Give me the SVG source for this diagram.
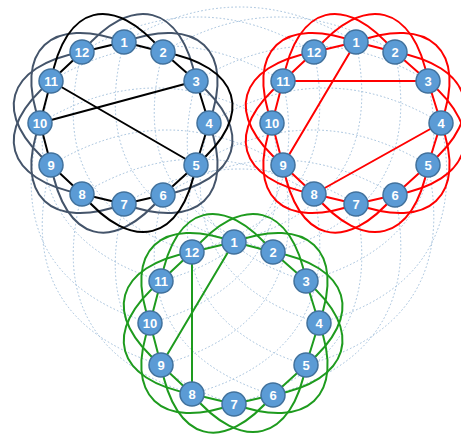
<svg xmlns="http://www.w3.org/2000/svg" xmlns:xlink="http://www.w3.org/1999/xlink" width="461" height="437" viewBox="0 0 461 437">
<style>
.bg{fill:#ffffff}
.dot{fill:none;stroke:#9fbedb;stroke-width:1;stroke-dasharray:1.6 2.2}
.ln{fill:none;stroke-width:2;stroke-linejoin:round;stroke-linecap:round}
.k{stroke:#000000}
.s{stroke:#44546a}
.r{stroke:#ff0000}
.g{stroke:#1e9b1e}
.node circle{fill:#5b9bd5;stroke:#41719c;stroke-width:1.5}
.node text{fill:#ffffff;font-family:"Liberation Sans",Arial,sans-serif;font-weight:bold;font-size:13px;text-anchor:middle;dominant-baseline:central}
</style>
<defs>
<path id="ring" d="M0,-81 L39,-71 L72,-42 L85,0 L72,42 L39,72 L0,81 L-42,71 L-73,42 L-84,0 L-73,-42 L-42,-71 Z"/>
<path id="a1" d="M0,-81 C73,-108 112,-73 85,0"/>
<path id="a2" d="M39,-71 C116,-57 132,-8 72,42"/>
<path id="a3" d="M72,-42 C132,8 116,58 39,72"/>
<path id="a4" d="M85,0 C112,73 73,108 0,81"/>
<path id="a5" d="M72,42 C58,119 8,131 -42,71"/>
<path id="a6" d="M39,72 C-11,132 -59,119 -73,42"/>
<path id="a7" d="M0,81 C-73,108 -111,73 -84,0"/>
<path id="a8" d="M-42,71 C-119,57 -133,8 -73,-42"/>
<path id="a9" d="M-73,42 C-133,-8 -119,-57 -42,-71"/>
<path id="a10" d="M-84,0 C-111,-73 -73,-108 0,-81"/>
<path id="a11" d="M-73,-42 C-59,-119 -11,-131 39,-71"/>
<path id="a12" d="M-42,-71 C8,-131 58,-119 72,-42"/>
</defs>
<rect class="bg" x="0" y="0" width="461" height="437"/>
<g id="connectors">
<g id="inter-cluster-links">
<path class="dot" d="M124,42 Q240,-28 356,42"/>
<path class="dot" d="M163,52 Q279,-18 395,52"/>
<path class="dot" d="M196,81 Q312,11 428,81"/>
<path class="dot" d="M209,123 Q325,53 441,123"/>
<path class="dot" d="M196,165 Q312,95 428,165"/>
<path class="dot" d="M163,195 Q279,125 395,195"/>
<path class="dot" d="M124,204 Q240,134 356,204"/>
<path class="dot" d="M82,194 Q198,124 314,194"/>
<path class="dot" d="M51,165 Q167,95 283,165"/>
<path class="dot" d="M40,123 Q156,53 272,123"/>
<path class="dot" d="M51,81 Q167,11 283,81"/>
<path class="dot" d="M82,52 Q198,-18 314,52"/>
<path class="dot" d="M124,42 Q83,195 234,242"/>
<path class="dot" d="M163,52 Q122,205 273,252"/>
<path class="dot" d="M196,81 Q155,234 306,281"/>
<path class="dot" d="M209,123 Q168,276 319,323"/>
<path class="dot" d="M196,165 Q155,318 306,365"/>
<path class="dot" d="M163,195 Q122,348 273,395"/>
<path class="dot" d="M124,204 Q83,357 234,404"/>
<path class="dot" d="M82,194 Q41,347 192,394"/>
<path class="dot" d="M51,165 Q10,318 161,365"/>
<path class="dot" d="M40,123 Q-1,276 150,323"/>
<path class="dot" d="M51,81 Q10,234 161,281"/>
<path class="dot" d="M82,52 Q41,205 192,252"/>
<path class="dot" d="M356,42 Q389,199 234,242"/>
<path class="dot" d="M395,52 Q428,209 273,252"/>
<path class="dot" d="M428,81 Q461,238 306,281"/>
<path class="dot" d="M441,123 Q474,280 319,323"/>
<path class="dot" d="M428,165 Q461,322 306,365"/>
<path class="dot" d="M395,195 Q428,352 273,395"/>
<path class="dot" d="M356,204 Q389,361 234,404"/>
<path class="dot" d="M314,194 Q347,351 192,394"/>
<path class="dot" d="M283,165 Q316,322 161,365"/>
<path class="dot" d="M272,123 Q305,280 150,323"/>
<path class="dot" d="M283,81 Q316,238 161,281"/>
<path class="dot" d="M314,52 Q347,209 192,252"/>
</g>
<g id="black-links" class="ln" transform="translate(124,123)">
<use href="#a1" xlink:href="#a1" class="s"/>
<use href="#a3" xlink:href="#a3" class="s"/>
<use href="#a4" xlink:href="#a4" class="s"/>
<use href="#a6" xlink:href="#a6" class="s"/>
<use href="#a7" xlink:href="#a7" class="s"/>
<use href="#a8" xlink:href="#a8" class="s"/>
<use href="#a9" xlink:href="#a9" class="s"/>
<use href="#a10" xlink:href="#a10" class="s"/>
<use href="#a12" xlink:href="#a12" class="s"/>
<use href="#a2" xlink:href="#a2" class="k"/>
<use href="#a5" xlink:href="#a5" class="k"/>
<use href="#a11" xlink:href="#a11" class="k"/>
<use href="#ring" xlink:href="#ring" class="k"/>
<path class="k" d="M-84,0 L72,-42"/>
<path class="k" d="M-73,-42 L72,42"/>
</g>
<g id="red-links" class="ln r" transform="translate(356,123)">
<use href="#a1" xlink:href="#a1"/>
<use href="#a2" xlink:href="#a2"/>
<use href="#a3" xlink:href="#a3"/>
<use href="#a4" xlink:href="#a4"/>
<use href="#a5" xlink:href="#a5"/>
<use href="#a6" xlink:href="#a6"/>
<use href="#a7" xlink:href="#a7"/>
<use href="#a8" xlink:href="#a8"/>
<use href="#a9" xlink:href="#a9"/>
<use href="#a10" xlink:href="#a10"/>
<use href="#a11" xlink:href="#a11"/>
<use href="#a12" xlink:href="#a12"/>
<use href="#ring" xlink:href="#ring"/>
<path d="M-73,-42 L72,-42"/>
<path d="M0,-81 L-73,42"/>
<path d="M85,0 L-42,71"/>
</g>
<g id="green-links" class="ln g" transform="translate(234,323)">
<use href="#a1" xlink:href="#a1"/>
<use href="#a2" xlink:href="#a2"/>
<use href="#a3" xlink:href="#a3"/>
<use href="#a4" xlink:href="#a4"/>
<use href="#a5" xlink:href="#a5"/>
<use href="#a6" xlink:href="#a6"/>
<use href="#a7" xlink:href="#a7"/>
<use href="#a8" xlink:href="#a8"/>
<use href="#a9" xlink:href="#a9"/>
<use href="#a10" xlink:href="#a10"/>
<use href="#a11" xlink:href="#a11"/>
<use href="#a12" xlink:href="#a12"/>
<use href="#ring" xlink:href="#ring"/>
<path d="M-42,-71 L-42,71"/>
<path d="M0,-81 L-73,42"/>
</g>
</g>
<g id="black-nodes" transform="translate(124,123)">
<g id="b1" class="node"><circle cx="0" cy="-81" r="12"/><text x="0" y="-81">1</text></g>
<g id="b2" class="node"><circle cx="39" cy="-71" r="12"/><text x="39" y="-71">2</text></g>
<g id="b3" class="node"><circle cx="72" cy="-42" r="12"/><text x="72" y="-42">3</text></g>
<g id="b4" class="node"><circle cx="85" cy="0" r="12"/><text x="85" y="0">4</text></g>
<g id="b5" class="node"><circle cx="72" cy="42" r="12"/><text x="72" y="42">5</text></g>
<g id="b6" class="node"><circle cx="39" cy="72" r="12"/><text x="39" y="72">6</text></g>
<g id="b7" class="node"><circle cx="0" cy="81" r="12"/><text x="0" y="81">7</text></g>
<g id="b8" class="node"><circle cx="-42" cy="71" r="12"/><text x="-42" y="71">8</text></g>
<g id="b9" class="node"><circle cx="-73" cy="42" r="12"/><text x="-73" y="42">9</text></g>
<g id="b10" class="node"><circle cx="-84" cy="0" r="12"/><text x="-84" y="0">10</text></g>
<g id="b11" class="node"><circle cx="-73" cy="-42" r="12"/><text x="-73" y="-42">11</text></g>
<g id="b12" class="node"><circle cx="-42" cy="-71" r="12"/><text x="-42" y="-71">12</text></g>
</g>
<g id="red-nodes" transform="translate(356,123)">
<g id="r1" class="node"><circle cx="0" cy="-81" r="12"/><text x="0" y="-81">1</text></g>
<g id="r2" class="node"><circle cx="39" cy="-71" r="12"/><text x="39" y="-71">2</text></g>
<g id="r3" class="node"><circle cx="72" cy="-42" r="12"/><text x="72" y="-42">3</text></g>
<g id="r4" class="node"><circle cx="85" cy="0" r="12"/><text x="85" y="0">4</text></g>
<g id="r5" class="node"><circle cx="72" cy="42" r="12"/><text x="72" y="42">5</text></g>
<g id="r6" class="node"><circle cx="39" cy="72" r="12"/><text x="39" y="72">6</text></g>
<g id="r7" class="node"><circle cx="0" cy="81" r="12"/><text x="0" y="81">7</text></g>
<g id="r8" class="node"><circle cx="-42" cy="71" r="12"/><text x="-42" y="71">8</text></g>
<g id="r9" class="node"><circle cx="-73" cy="42" r="12"/><text x="-73" y="42">9</text></g>
<g id="r10" class="node"><circle cx="-84" cy="0" r="12"/><text x="-84" y="0">10</text></g>
<g id="r11" class="node"><circle cx="-73" cy="-42" r="12"/><text x="-73" y="-42">11</text></g>
<g id="r12" class="node"><circle cx="-42" cy="-71" r="12"/><text x="-42" y="-71">12</text></g>
</g>
<g id="green-nodes" transform="translate(234,323)">
<g id="g1" class="node"><circle cx="0" cy="-81" r="12"/><text x="0" y="-81">1</text></g>
<g id="g2" class="node"><circle cx="39" cy="-71" r="12"/><text x="39" y="-71">2</text></g>
<g id="g3" class="node"><circle cx="72" cy="-42" r="12"/><text x="72" y="-42">3</text></g>
<g id="g4" class="node"><circle cx="85" cy="0" r="12"/><text x="85" y="0">4</text></g>
<g id="g5" class="node"><circle cx="72" cy="42" r="12"/><text x="72" y="42">5</text></g>
<g id="g6" class="node"><circle cx="39" cy="72" r="12"/><text x="39" y="72">6</text></g>
<g id="g7" class="node"><circle cx="0" cy="81" r="12"/><text x="0" y="81">7</text></g>
<g id="g8" class="node"><circle cx="-42" cy="71" r="12"/><text x="-42" y="71">8</text></g>
<g id="g9" class="node"><circle cx="-73" cy="42" r="12"/><text x="-73" y="42">9</text></g>
<g id="g10" class="node"><circle cx="-84" cy="0" r="12"/><text x="-84" y="0">10</text></g>
<g id="g11" class="node"><circle cx="-73" cy="-42" r="12"/><text x="-73" y="-42">11</text></g>
<g id="g12" class="node"><circle cx="-42" cy="-71" r="12"/><text x="-42" y="-71">12</text></g>
</g>
</svg>
